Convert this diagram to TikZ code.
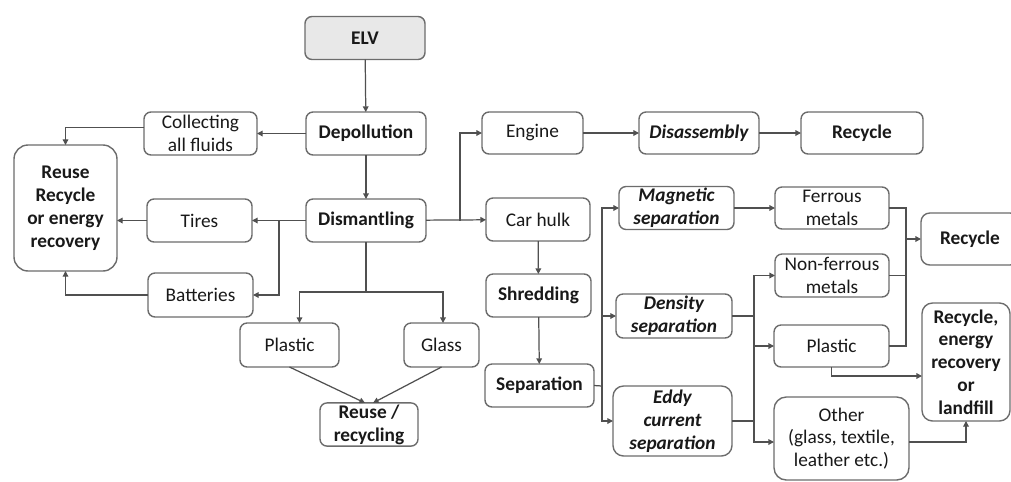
\documentclass[tikz,border=0pt]{standalone}
\usepackage{fontspec}
\setmainfont{Carlito}
\usetikzlibrary{arrows.meta}
\definecolor{edge}{RGB}{108,108,108}
\definecolor{wire}{RGB}{80,80,80}
\definecolor{ink}{RGB}{25,25,25}
\definecolor{elvfill}{RGB}{232,232,232}

\begin{document}
\begin{tikzpicture}[x=0.02cm,y=-0.02cm,
    box/.style={rounded corners=4pt,draw=edge,line width=0.8pt,fill=white,
                text=ink,align=center,inner sep=1pt,outer sep=0pt,
                font=\fontsize{11}{13}\selectfont},
    sz/.style 2 args={minimum width=#1*0.02cm,minimum height=#2*0.02cm},
    hd/.style={font=\fontsize{11}{13}\selectfont\bfseries},
    op/.style={font=\fontsize{11}{13}\selectfont\bfseries\itshape},
    arr/.style={wire,line width=0.7pt,-{Triangle[length=3.2pt,width=3.2pt]}},
    ln/.style={wire,line width=0.7pt}]
    \useasboundingbox (0,0) rectangle (1011,481);

    % dismantling side
    \node[box,hd,sz={120}{43},fill=elvfill] (elv) at (365,38) {ELV};
    \node[box,hd,sz={120}{43}] (depol) at (366,133.5) {Depollution};
    \node[box,sz={113}{43}] (fluids) at (200.5,133.5) {Collecting\\all fluids};
    \node[box,hd,sz={103}{126},rounded corners=8pt] (reuse) at (65.5,208) {Reuse\\Recycle\\or energy\\recovery};
    \node[box,sz={105}{43}] (tires) at (199.5,220.5) {Tires};
    \node[box,hd,sz={120}{43}] (dism) at (366,220.5) {Dismantling};
    \node[box,sz={105}{44}] (batt) at (200.5,295) {Batteries};
    \node[box,sz={99}{44}] (plasl) at (289.5,345) {Plastic};
    \node[box,sz={75}{44}] (glass) at (441.5,345) {Glass};
    \node[box,hd,sz={98}{43}] (reurec) at (369,424.5) {Reuse /\\recycling};

    % engine and hulk
    \node[box,sz={101}{42}] (engine) at (532.5,133) {Engine};
    \node[box,op,sz={120}{42}] (disas) at (699,133) {Disassembly};
    \node[box,hd,sz={122}{42}] (recyt) at (862,133) {Recycle};
    \node[box,sz={104}{43}] (hulk) at (538,219.5) {Car hulk};
    \node[box,hd,sz={105}{43}] (shred) at (538.5,295.5) {Shredding};
    \node[box,hd,sz={109}{43}] (sep) at (539.5,385.5) {Separation};

    % separation stages
    \node[box,op,sz={115}{42}] (magn) at (676.5,208) {Magnetic\\separation};
    \node[box,op,sz={116}{44}] (dens) at (674,316) {Density\\separation};
    \node[box,op,sz={119}{70},rounded corners=6pt] (eddy) at (672.5,421) {Eddy\\current\\separation};
    \node[box,sz={114}{42}] (ferr) at (832,208) {Ferrous\\metals};
    \node[box,sz={114}{43}] (nonf) at (832,275.5) {Non-ferrous\\metals};
    \node[box,sz={115}{42}] (plasr) at (831.5,346) {Plastic};
    \node[box,sz={135}{83},rounded corners=7pt] (other) at (841.5,438.5) {Other\\(glass, textile,\\leather etc.)};
    \node[box,hd,sz={98}{52},rounded corners=5pt] (recyr) at (970,239) {Recycle};
    \node[box,hd,sz={88}{118},rounded corners=6pt] (landf) at (966,362) {Recycle,\\energy\\recovery\\or\\landfill};

    \coordinate (jb) at (279,220.5);
    \coordinate (jg) at (366,292);
    \coordinate (je) at (460,220.5);
    \coordinate (js) at (602,386);
    \coordinate (jd) at (754,316);
    \coordinate (jr) at (906,239);

    \draw[arr] (elv) -- (depol);
    \draw[arr] (depol) -- (fluids);
    \draw[arr] ([yshift=0.12cm]fluids.west) -| (reuse.north);
    \draw[arr] (depol) -- (dism);
    \draw[arr] (dism) -- (tires);
    \draw[arr] (tires.west) -- (tires.west -| reuse.east);
    \draw[arr] (jb) |- (batt.east);
    \draw[arr] (batt.west) -| (reuse.south);
    \draw[ln] (dism.south) -- (jg);
    \draw[arr] (jg) -| ([xshift=0.2cm]plasl.north);
    \draw[arr] (jg) -| ([xshift=0.03cm]glass.north);
    \draw[arr] (plasl.south) -- ([xshift=-0.08cm]reurec.north);
    \draw[arr] (glass.south) -- ([xshift=0.08cm]reurec.north);

    \draw[arr] (dism) -- (hulk);
    \draw[arr] (je) |- (engine.west);
    \draw[arr] (engine) -- (disas);
    \draw[arr] (disas) -- (recyt);
    \draw[arr] (hulk) -- (shred);
    \draw[arr] (shred) -- (sep);

    \draw[ln] (sep.east) -- (js);
    \draw[arr] (js) |- (magn.west);
    \draw[arr] (js) |- (dens.west);
    \draw[arr] (js) |- (eddy.west);
    \draw[arr] (magn) -- (ferr);
    \draw[ln] (dens.east) -- (jd);
    \draw[ln] (eddy.east) -| (jd);
    \draw[arr] (jd) |- (nonf.west);
    \draw[arr] (jd) |- (plasr.west);
    \draw[arr] (jd) |- ([yshift=-0.07cm]other.west);
    \draw[arr] (ferr.east) -| (jr) -- (recyr.west);
    \draw[ln] (nonf.east) -| (jr);
    \draw[ln] (plasr.east) -| (jr);
    \draw[arr] (plasr.south) |- ([yshift=-0.28cm]landf.west);
    \draw[arr] ([yshift=-0.07cm]other.east) -| (landf.south);
\end{tikzpicture}
\end{document}
